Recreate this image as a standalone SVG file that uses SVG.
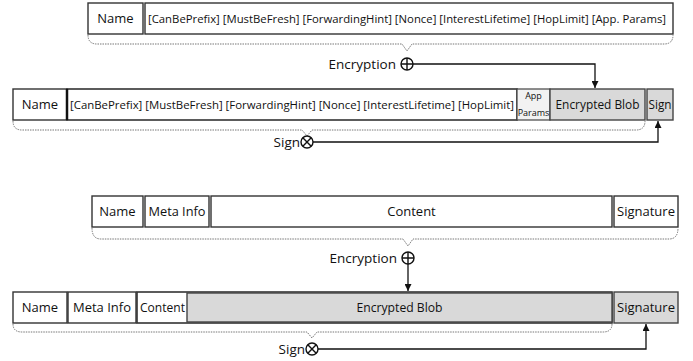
<svg xmlns="http://www.w3.org/2000/svg" width="693" height="361" viewBox="0 0 693 361">
<style>
.b{fill:#fff;stroke:#333;stroke-width:1.4}
.g{fill:#d9d9d9;stroke:#444;stroke-width:1.4}
.l{fill:#f2f2f2;stroke:#444;stroke-width:1.2}
.t{font-family:"Open Sans","Noto Sans",sans-serif;font-size:13px;fill:#111}
.k{font-family:"Open Sans","Noto Sans",sans-serif;font-size:11.5px;fill:#111}
.s{font-family:"Open Sans","Noto Sans",sans-serif;font-size:9px;fill:#111}
.o{font-family:"Open Sans","Noto Sans",sans-serif;font-size:13.5px;fill:#111}
.br{fill:none;stroke:#777;stroke-width:1;stroke-dasharray:1.5 1}
.c{fill:none;stroke:#111;stroke-width:1.3}
.op{fill:#fff;stroke:#111;stroke-width:1.4}
</style>
<defs>
<marker id="ah" viewBox="0 0 10 10" refX="10" refY="5" markerWidth="7" markerHeight="7" markerUnits="userSpaceOnUse" orient="auto"><path d="M0,0L10,5L0,10z" fill="#111"/></marker>
</defs>

<g id="interest-plain">
<rect class="b" x="88" y="3" width="55" height="31"/>
<text class="t" x="115.5" y="23" text-anchor="middle">Name</text>
<rect class="b" x="145" y="3" width="528" height="31"/>
<text class="k" x="148" y="23" textLength="518" lengthAdjust="spacingAndGlyphs">[CanBePrefix] [MustBeFresh] [ForwardingHint] [Nonce] [InterestLifetime] [HopLimit] [App. Params]</text>
</g>

<g id="interest-encrypted">
<rect class="b" x="13" y="89" width="54" height="31"/>
<text class="t" x="40" y="109" text-anchor="middle">Name</text>
<rect class="b" x="67" y="89" width="450" height="31" style="stroke-width:1.6"/>
<line x1="67" y1="89" x2="67" y2="120" stroke="#111" stroke-width="2.5"/>
<text class="k" x="70" y="109" textLength="444" lengthAdjust="spacingAndGlyphs">[CanBePrefix] [MustBeFresh] [ForwardingHint] [Nonce] [InterestLifetime] [HopLimit]</text>
<rect class="l" x="517" y="89" width="33" height="31"/>
<text class="s" x="533.5" y="99" text-anchor="middle">App</text>
<text class="s" x="533.5" y="116" text-anchor="middle">Params</text>
<rect class="g" x="550" y="89" width="95" height="31"/>
<text class="t" x="597.5" y="109" text-anchor="middle" textLength="84" lengthAdjust="spacingAndGlyphs">Encrypted Blob</text>
<rect class="g" x="647" y="89" width="26" height="31"/>
<text class="t" x="660" y="109" text-anchor="middle" textLength="23" lengthAdjust="spacingAndGlyphs">Sign</text>
</g>

<g id="data-plain">
<rect class="b" x="92" y="196" width="51" height="31"/>
<text class="t" x="117.5" y="216" text-anchor="middle">Name</text>
<rect class="b" x="145" y="196" width="64" height="31"/>
<text class="t" x="177" y="216" text-anchor="middle" textLength="57" lengthAdjust="spacingAndGlyphs">Meta Info</text>
<rect class="b" x="211" y="196" width="401" height="31"/>
<text class="t" x="411.5" y="216" text-anchor="middle">Content</text>
<rect class="b" x="614" y="196" width="64" height="31"/>
<text class="t" x="646" y="216" text-anchor="middle" textLength="58" lengthAdjust="spacingAndGlyphs">Signature</text>
</g>

<g id="data-encrypted">
<rect class="b" x="13" y="292" width="54" height="31"/>
<text class="t" x="40" y="312" text-anchor="middle">Name</text>
<rect class="b" x="68" y="292" width="68" height="31"/>
<text class="t" x="102" y="312" text-anchor="middle" textLength="58" lengthAdjust="spacingAndGlyphs">Meta Info</text>
<rect class="b" x="137" y="292" width="475" height="31" style="stroke-width:1.6"/>
<text class="t" x="140" y="312" textLength="45" lengthAdjust="spacingAndGlyphs">Content</text>
<rect class="g" x="187" y="293" width="425" height="29"/>
<text class="t" x="399.5" y="312" text-anchor="middle" textLength="86" lengthAdjust="spacingAndGlyphs">Encrypted Blob</text>
<rect class="g" x="614" y="292" width="64" height="31"/>
<text class="t" x="646" y="312" text-anchor="middle" textLength="58" lengthAdjust="spacingAndGlyphs">Signature</text>
</g>

<g id="braces">
<path class="br" d="M88,35 Q88,44 97,44 L402,44 L407,51 L412,44 L664,44 Q673,44 673,35"/>
<path class="br" d="M13,121 Q13,130 22,130 L302,130 L307,136 L312,130 L636,130 Q645,130 645,121"/>
<path class="br" d="M92,228 Q92,239 101,239 L403,239 L408,246 L413,239 L669,239 Q678,239 678,228"/>
<path class="br" d="M13,324 Q13,332 22,332 L307,332 L312,338 L317,332 L603,332 Q612,332 612,324"/>
</g>

<g id="ops">
<text class="o" x="396" y="69" text-anchor="end">Encryption</text>
<circle class="op" cx="407" cy="64" r="6"/>
<path d="M401,64H413M407,58V70" stroke="#111" stroke-width="1.4"/>
<text class="o" x="300" y="147" text-anchor="end">Sign</text>
<circle class="op" cx="307" cy="142" r="6"/>
<path d="M302.8,137.8L311.2,146.2M311.2,137.8L302.8,146.2" stroke="#111" stroke-width="1.4"/>
<text class="o" x="397" y="263" text-anchor="end">Encryption</text>
<circle class="op" cx="408" cy="258" r="6"/>
<path d="M402,258H414M408,252V264" stroke="#111" stroke-width="1.4"/>
<text class="o" x="305" y="354" text-anchor="end">Sign</text>
<circle class="op" cx="312" cy="349" r="6"/>
<path d="M307.8,344.8L316.2,353.2M316.2,344.8L307.8,353.2" stroke="#111" stroke-width="1.4"/>
</g>

<g id="connectors">
<path class="c" d="M413,64H595V88" marker-end="url(#ah)"/>
<path class="c" d="M313,142H658V121" marker-end="url(#ah)"/>
<path class="c" d="M408,264V291" marker-end="url(#ah)"/>
<path class="c" d="M318,349H646V324" marker-end="url(#ah)"/>
</g>
</svg>
